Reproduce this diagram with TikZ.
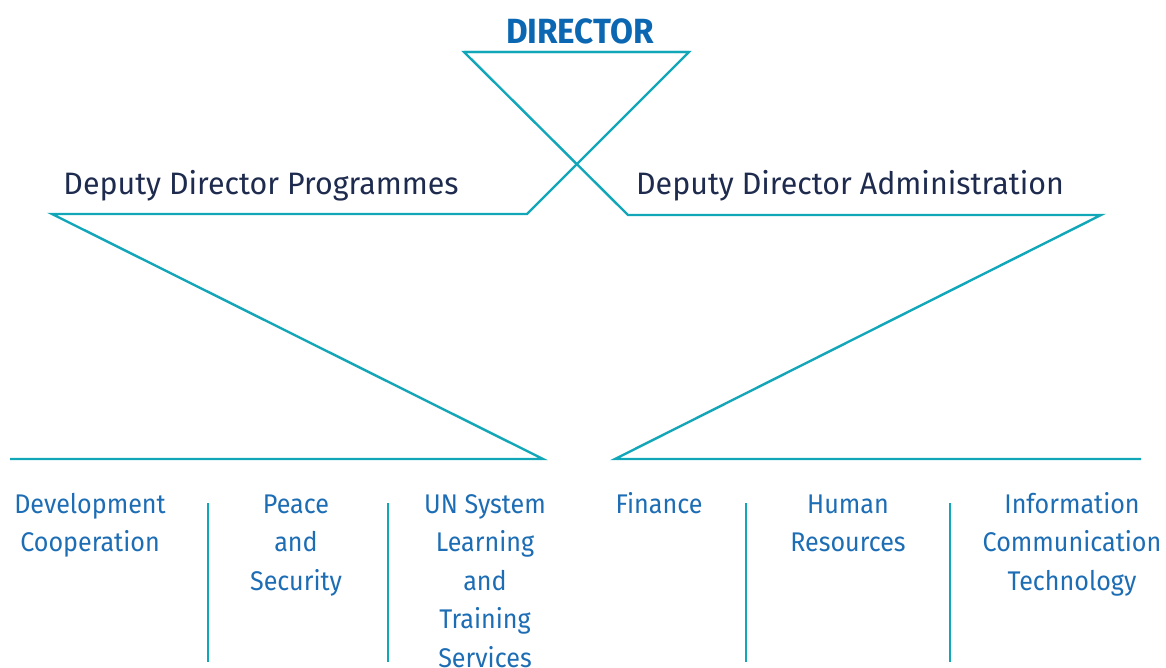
\documentclass[tikz,border=0pt]{standalone}
\usepackage{fontspec}
\setmainfont{Fira Sans}
\newfontfamily\dirfont[FakeStretch=0.95]{Fira Sans}
\newfontfamily\depfont[FakeStretch=0.98]{Fira Sans}
\newfontfamily\unitfont[FakeStretch=0.93]{Fira Sans}
\definecolor{teal1}{HTML}{12A6B9}
\definecolor{dirblue}{HTML}{0B67B2}
\definecolor{navy1}{HTML}{1E2B4E}
\definecolor{unitblue}{HTML}{1D6DB5}
\begin{document}
\begin{tikzpicture}[x=1pt,y=-1pt,
  conn/.style={draw=teal1,line width=2.4pt,line join=miter},
  divider/.style={draw=teal1,line width=2.4pt},
  dirtext/.style={font=\dirfont\fontsize{35}{40}\selectfont\bfseries,text=dirblue,inner sep=0pt},
  deptext/.style={font=\depfont\fontsize{31}{36}\selectfont,text=navy1,inner sep=0pt},
  unittext/.style={font=\unitfont\fontsize{27}{38.5}\selectfont,text=unitblue,inner sep=0pt,align=center,anchor=north}]
\useasboundingbox (0,0) rectangle (1166,668);
% titles
\node[dirtext,anchor=base] (dir) at (580,44) {DIRECTOR};
\node[deptext,anchor=base] (dprog) at (261,195) {Deputy Director Programmes};
\node[deptext,anchor=base] (dadm) at (850,195) {Deputy Director Administration};
% line vertices
\coordinate (dL) at (464,52);
\coordinate (dR) at (689,52);
\coordinate (pR) at (527,214);
\coordinate (pL) at (52,214);
\coordinate (aL) at (628,215);
\coordinate (aR) at (1101,215);
\coordinate (bPR) at (543,459);
\coordinate (bPL) at (10,459);
\coordinate (bAL) at (615,459);
\coordinate (bAR) at (1141,459);
% connectors
\draw[conn] (dR) -- (dL) -- (aL) -- (aR) -- (bAL) -- (bAR);
\draw[conn] (dL) -- (dR) -- (pR) -- (pL) -- (bPR) -- (bPL);
% units
\node[unittext] (u1) at (90,486) {\strut Development\\Cooperation};
\node[unittext] (u2) at (296,486) {\strut Peace\\and\\Security};
\node[unittext] (u3) at (485,486) {\strut UN System\\Learning\\and\\Training\\Services};
\node[unittext] (u4) at (659,486) {\strut Finance};
\node[unittext] (u5) at (848,486) {\strut Human\\Resources};
\node[unittext] (u6) at (1072,486) {\strut Information\\Communication\\Technology};
% dividers
\coordinate (v1t) at (208,503); \coordinate (v1b) at (208,662);
\coordinate (v2t) at (388,503); \coordinate (v2b) at (388,662);
\coordinate (v3t) at (746,503); \coordinate (v3b) at (746,662);
\coordinate (v4t) at (950,503); \coordinate (v4b) at (950,662);
\draw[divider] (v1t) -- (v1b);
\draw[divider] (v2t) -- (v2b);
\draw[divider] (v3t) -- (v3b);
\draw[divider] (v4t) -- (v4b);
\end{tikzpicture}
\end{document}
